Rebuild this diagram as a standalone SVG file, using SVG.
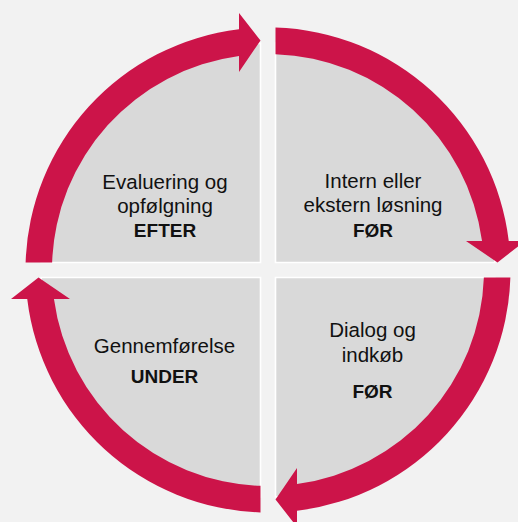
<svg xmlns="http://www.w3.org/2000/svg" width="518" height="522" viewBox="0 0 518 522">
  <style>
    .q { fill: #D9D9D9; stroke: #FFFFFF; stroke-width: 1.6; }
    .arc { fill: #CC1449; }
    .t { font-family: "Liberation Sans", Arial, sans-serif; font-size: 20.5px; fill: #111111; text-anchor: middle; }
    .b { font-weight: bold; font-size: 19px; }
  </style>
  <defs>
    <path id="quad" d="M -7.5 -7.5 L -226.88 -7.5 A 227 227 0 0 1 -7.5 -226.88 Z"/>
    <path id="arrow" d="M -242.38 -7.5 A 242.5 242.5 0 0 1 -29 -240.76 L -29 -257 L -7.5 -229.5 L -29 -198 L -29 -214.04 A 216 216 0 0 0 -215.87 -7.5 Z"/>
  </defs>
  <rect x="0" y="0" width="518" height="522" fill="#F2F2F2"/>

  <g id="node-evaluering">
    <use href="#quad" class="q" transform="translate(268 270)"/>
    <text class="t" x="165" y="189">Evaluering og</text>
    <text class="t" x="165" y="213">opfølgning</text>
    <text class="t b" x="165" y="237">EFTER</text>
  </g>
  <g id="node-intern">
    <use href="#quad" class="q" transform="translate(268 270) rotate(90)"/>
    <text class="t" x="373" y="188">Intern eller</text>
    <text class="t" x="373" y="212">ekstern løsning</text>
    <text class="t b" x="373" y="237">FØR</text>
  </g>
  <g id="node-dialog">
    <use href="#quad" class="q" transform="translate(268 270) rotate(180)"/>
    <text class="t" x="372.5" y="337">Dialog og</text>
    <text class="t" x="372.5" y="362">indkøb</text>
    <text class="t b" x="372.5" y="398">FØR</text>
  </g>
  <g id="node-gennemfoerelse">
    <use href="#quad" class="q" transform="translate(268 270) rotate(270)"/>
    <text class="t" x="164.5" y="353">Gennemførelse</text>
    <text class="t b" x="164.5" y="383">UNDER</text>
  </g>

  <g id="connectors">
    <use href="#arrow" class="arc" transform="translate(268 270)"/>
    <use href="#arrow" class="arc" transform="translate(268 270) rotate(90)"/>
    <use href="#arrow" class="arc" transform="translate(268 270) rotate(180)"/>
    <use href="#arrow" class="arc" transform="translate(268 270) rotate(270)"/>
  </g>
</svg>
